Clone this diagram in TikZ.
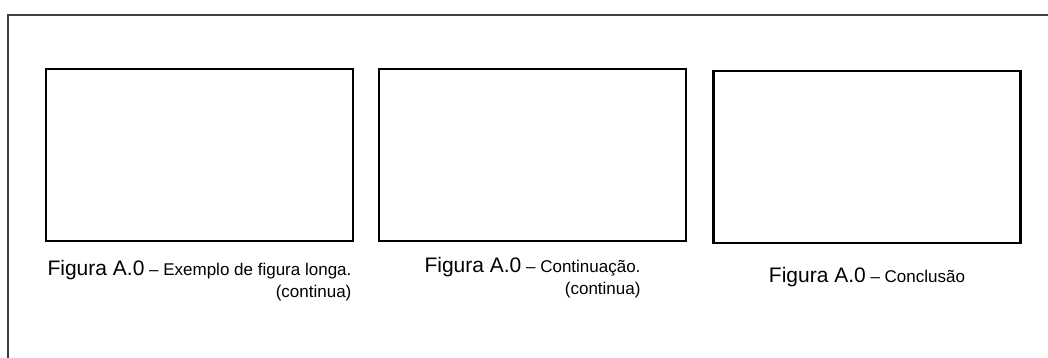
\documentclass[tikz,border=0pt]{standalone}
\usepackage{fontspec}
\setmainfont{Liberation Sans}
\usetikzlibrary{positioning}
\newcommand{\figtag}{{\fontsize{21}{22}\selectfont Figura A.0}}
\begin{document}
\begin{tikzpicture}[x=1pt, y=-1pt,
    figbox/.style={draw, line width=2.2pt, minimum width=307pt, minimum height=172pt, inner sep=0pt},
    caption/.style={align=right, inner sep=0pt, font=\fontsize{17}{22}\selectfont}]
    \useasboundingbox (0,0) rectangle (1048,358);
    % Page frame
    \draw[line width=1.5pt, black!75] (8,358) -- (8,15) -- (1048,15);
    % Figures
    \node[figbox] (fig1) at (199.5,155) {};
    \node[figbox] (fig2) at (532.5,155) {};
    \node[figbox] (fig3) at (867,157) {};
    % Captions
    \node[caption, below=18pt of fig1] (cap1) {\figtag\ -- Exemplo de figura longa.\\(continua)};
    \node[caption, below=15pt of fig2] (cap2) {\figtag\ -- Continuação.\\(continua)};
    \node[caption, below=23pt of fig3] (cap3) {\figtag\ -- Conclusão};
  \end{tikzpicture}
\end{document}
